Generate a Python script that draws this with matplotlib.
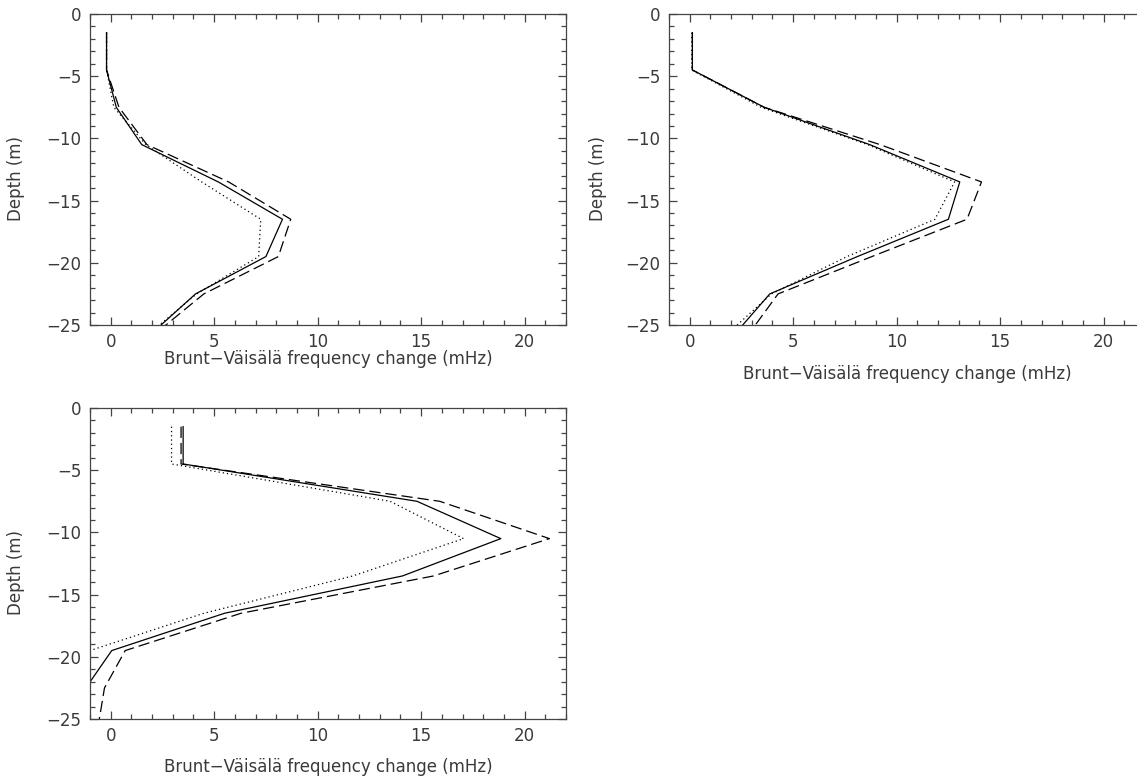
import numpy as np
import matplotlib.pyplot as plt
from matplotlib.ticker import MultipleLocator

plt.rcParams['font.family'] = ['DejaVu Sans']
plt.rcParams['font.size'] = 12

depth = [-1.5, -4.5, -7.5, -10.5, -13.5, -16.5, -19.5, -22.5, -25.5]

# panel 1 (top left)
p1_solid = [-0.2, -0.2, 0.27, 1.5, 5.2, 8.3, 7.5, 4.1, 2.1]
p1_dashed = [-0.2, -0.2, 0.4, 1.75, 5.7, 8.7, 8.1, 4.5, 2.3]
p1_dotted = [-0.2, -0.2, 0.15, 1.7, 4.4, 7.25, 7.15, 4.15, 2.0]

# panel 2 (top right)
p2_solid = [0.13, 0.13, 3.6, 8.7, 13.05, 12.5, 8.1, 3.87, 2.3]
p2_dashed = [0.13, 0.13, 3.6, 9.2, 14.1, 13.4, 8.8, 4.27, 2.95]
p2_dotted = [0.1, 0.1, 3.45, 8.6, 12.8, 11.85, 7.6, 3.95, 1.96]

# panel 3 (bottom left)
p3_solid = [3.5, 3.5, 14.8, 18.85, 14.1, 5.5, 0.05, -1.2, -2.4]
p3_dashed = [3.4, 3.4, 15.9, 21.2, 15.6, 6.3, 0.7, -0.3, -0.6]
p3_dotted = [2.94, 2.94, 13.5, 17.05, 11.7, 4.5, -1.0, -2.5, -4.0]

xlabel = 'Brunt\u2212Väisälä frequency change (mHz)'
ylabel = 'Depth (m)'
tcol = '#3a3a3a'

fig = plt.figure(figsize=(11.37, 7.76), dpi=100)
W, H = 1137.0, 776.0
aw, ah = 476 / W, 311 / H
boxes = [(90 / W, 1 - 325 / H), (669 / W, 1 - 325 / H), (90 / W, 1 - 719 / H)]
panels = [(p1_solid, p1_dashed, p1_dotted),
          (p2_solid, p2_dashed, p2_dotted),
          (p3_solid, p3_dashed, p3_dotted)]
xlab_y = [-0.080, -0.129, -0.125]
ylab_x = [-0.137, -0.130, -0.137]

for (x0, y0), (s, d, o), xy, yx in zip(boxes, panels, xlab_y, ylab_x):
    ax = fig.add_axes([x0, y0, aw, ah])
    ax.plot(s, depth, color='black', lw=0.9)
    ax.plot(d, depth, color='black', lw=0.9, dashes=(9, 4))
    ax.plot(o, depth, color='black', lw=0.9, dashes=(1, 2.4))
    ax.set_xlim(-1, 22)
    ax.set_ylim(-25, 0)
    ax.xaxis.set_major_locator(MultipleLocator(5))
    ax.xaxis.set_minor_locator(MultipleLocator(1))
    ax.yaxis.set_major_locator(MultipleLocator(5))
    ax.yaxis.set_minor_locator(MultipleLocator(1))
    ax.tick_params(which='both', direction='in', top=True, right=True,
                   colors='#444444', labelcolor=tcol, labelsize=12, width=0.9)
    ax.tick_params(which='major', length=6, pad=6)
    ax.tick_params(which='minor', length=3.5)
    for sp in ax.spines.values():
        sp.set_color('#444444')
        sp.set_linewidth(0.9)
    ax.set_xlabel(xlabel, color=tcol, fontsize=12)
    ax.set_ylabel(ylabel, color=tcol, fontsize=12)
    ax.xaxis.set_label_coords(0.5, xy)
    ax.yaxis.set_label_coords(yx, 0.47)

fig.savefig('out.png', dpi=100)
